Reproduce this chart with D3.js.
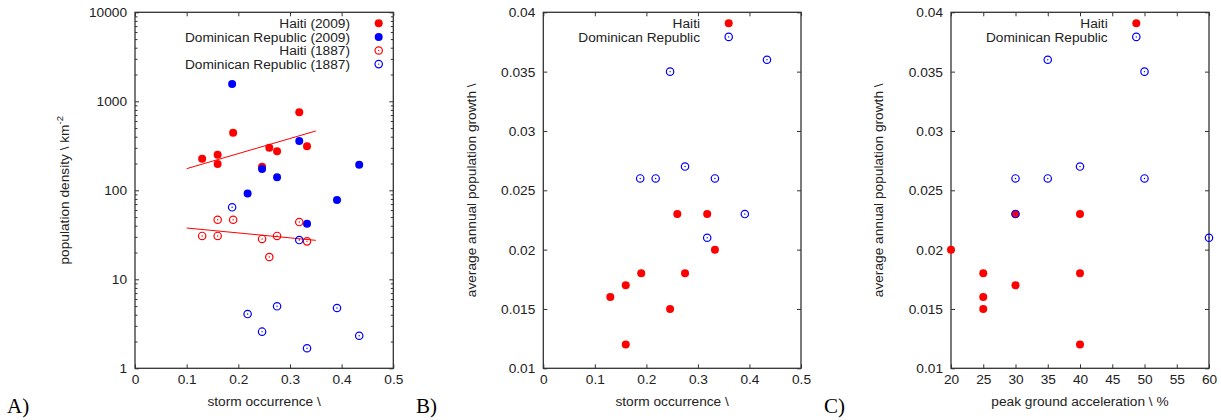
<!DOCTYPE html>
<html>
<head>
<meta charset="utf-8">
<script src="https://cdn.jsdelivr.net/npm/d3@7"></script>
<style>
  body { margin: 0; background: #fff; }
  text { font-family: 'Liberation Sans', Arial, sans-serif; fill: #222; }
  .panel-label { font-family: 'Liberation Serif', 'Times New Roman', serif; font-size: 21px; fill: #000; }
</style>
</head>
<body>
<svg width="1221" height="420"></svg>
<script>
// Haiti departments
const stormHaiti = [0.13, 0.16, 0.16, 0.19, 0.246, 0.26, 0.275, 0.318, 0.333];
const densityHaiti2009 = [226, 251, 198, 444, 184, 301, 274, 752, 312];
const densityHaiti1887 = [30.7, 46.7, 30.7, 46.7, 28.4, 17.8, 30.7, 44, 26.7];
const growthHaiti = [0.016, 0.017, 0.012, 0.018, 0.015, 0.023, 0.018, 0.023, 0.020];
const pgaHaiti = [25, 30, 40, 25, 25, 30, 40, 40, 20];

// Dominican Republic regions
const stormDR = [0.188, 0.218, 0.246, 0.275, 0.318, 0.333, 0.391, 0.434];
const densityDR2009 = [1563, 92, 173, 140, 358, 42, 78, 194];
const densityDR1887 = [64.4, 4.07, 2.58, 4.97, 27.6, 1.68, 4.76, 2.32];
const growthDR = [0.026, 0.026, 0.035, 0.027, 0.021, 0.026, 0.023, 0.036];
const pgaDR = [30, 35, 50, 40, 60, 50, 30, 35];

// fitted lines (endpoints)
const fitX = [0.1, 0.35];
const fitHaiti2009 = [175, 464];
const fitHaiti1887 = [37.7, 27.4];

const stormTicks = [0, 0.1, 0.2, 0.3, 0.4, 0.5];
const densityTicks = [1, 10, 100, 1000, 10000];
const growthTicks = [0.01, 0.015, 0.02, 0.025, 0.03, 0.035, 0.04];
const pgaTicks = [20, 25, 30, 35, 40, 45, 50, 55, 60];

const RED = '#ff0000';
const BLUE = '#0000ff';
const FS = '13.7px';

const svg = d3.select('svg');
const plotTop = 12.3, plotBottom = 368.3;

function filled(g, x, y, color) {
  g.append('circle').attr('cx', x).attr('cy', y).attr('r', 4).attr('fill', color);
}
function open(g, x, y, color) {
  g.append('circle').attr('cx', x).attr('cy', y).attr('r', 3.7)
    .attr('fill', 'none').attr('stroke', color).attr('stroke-width', 1.2);
  g.append('circle').attr('cx', x).attr('cy', y).attr('r', 0.7).attr('fill', color);
}

function frame(g, xScale, yScale, xTicks, yTicks, minorY) {
  const fmt = d => String(d);
  const styleAxis = sel => {
    sel.select('.domain').remove();
    sel.selectAll('line').attr('stroke', '#333');
    sel.selectAll('text').style('font-size', FS).attr('fill', '#222');
  };
  g.append('g').attr('transform', `translate(0,${plotBottom})`)
    .call(d3.axisBottom(xScale).tickValues(xTicks).tickFormat(fmt).tickSize(-4).tickPadding(6))
    .call(styleAxis);
  g.append('g').attr('transform', `translate(0,${plotTop})`)
    .call(d3.axisTop(xScale).tickValues(xTicks).tickFormat('').tickSize(-4))
    .call(styleAxis);
  const x0 = xScale.range()[0], x1 = xScale.range()[1];
  g.append('g').attr('transform', `translate(${x0},0)`)
    .call(d3.axisLeft(yScale).tickValues(yTicks).tickFormat(fmt).tickSize(-4).tickPadding(8))
    .call(styleAxis);
  g.append('g').attr('transform', `translate(${x1},0)`)
    .call(d3.axisRight(yScale).tickValues(yTicks).tickFormat('').tickSize(-4))
    .call(styleAxis);
  if (minorY) {
    g.append('g').attr('transform', `translate(${x0},0)`)
      .call(d3.axisLeft(yScale).tickValues(minorY).tickFormat('').tickSize(-2.5))
      .call(styleAxis);
    g.append('g').attr('transform', `translate(${x1},0)`)
      .call(d3.axisRight(yScale).tickValues(minorY).tickFormat('').tickSize(-2.5))
      .call(styleAxis);
  }
  g.append('rect').attr('x', x0).attr('y', plotTop)
    .attr('width', x1 - x0).attr('height', plotBottom - plotTop)
    .attr('fill', 'none').attr('stroke', '#333').attr('stroke-width', 1.3);
}

function titles(g, xScale, xTitle, yX, yTitle, label, labelX) {
  const xr = xScale.range();
  g.append('text').attr('x', (xr[0] + xr[1]) / 2).attr('y', 406)
    .attr('text-anchor', 'middle').style('font-size', FS).text(xTitle);
  const yt = g.append('text')
    .attr('transform', `translate(${yX},${(plotTop + plotBottom) / 2}) rotate(-90)`)
    .attr('text-anchor', 'middle').style('font-size', FS);
  yt.append('tspan').text(yTitle.main);
  if (yTitle.sup) {
    yt.append('tspan').attr('dy', -6).style('font-size', '9.5px').text(yTitle.sup);
  }
  g.append('text').attr('class', 'panel-label').attr('x', labelX).attr('y', 413).text(label);
}

function legend(g, textX, symX, rows) {
  rows.forEach((r, i) => {
    const y = 23.3 + i * 13.6;
    g.append('text').attr('x', textX).attr('y', y + 4.8)
      .attr('text-anchor', 'end').style('font-size', FS).text(r.name);
    r.draw(g, symX, y, r.color);
  });
}

// ---- Panel A
const minorLog = [];
[1, 10, 100, 1000].forEach(b => { for (let k = 2; k <= 9; k++) minorLog.push(b * k); });

const xA = d3.scaleLinear().domain([0, 0.5]).range([135, 393.3]);
const yA = d3.scaleLog().domain([1, 10000]).range([plotBottom, plotTop]);
const gA = svg.append('g');
frame(gA, xA, yA, stormTicks, densityTicks, minorLog);

const line = d3.line().x(d => xA(d[0])).y(d => yA(d[1]));
gA.append('path').datum(d3.zip(fitX, fitHaiti2009)).attr('d', line)
  .attr('fill', 'none').attr('stroke', RED).attr('stroke-width', 1);
gA.append('path').datum(d3.zip(fitX, fitHaiti1887)).attr('d', line)
  .attr('fill', 'none').attr('stroke', RED).attr('stroke-width', 1);

stormHaiti.forEach((s, i) => filled(gA, xA(s), yA(densityHaiti2009[i]), RED));
stormDR.forEach((s, i) => filled(gA, xA(s), yA(densityDR2009[i]), BLUE));
stormHaiti.forEach((s, i) => open(gA, xA(s), yA(densityHaiti1887[i]), RED));
stormDR.forEach((s, i) => open(gA, xA(s), yA(densityDR1887[i]), BLUE));

legend(gA, 350, 378.7, [
  { name: 'Haiti (2009)', color: RED, draw: filled },
  { name: 'Dominican Republic (2009)', color: BLUE, draw: filled },
  { name: 'Haiti (1887)', color: RED, draw: open },
  { name: 'Dominican Republic (1887)', color: BLUE, draw: open }
]);
titles(gA, xA, 'storm occurrence \\', 68.5, { main: 'population density \\ km', sup: '-2' }, 'A)', 7);

// ---- Panel B
const xB = d3.scaleLinear().domain([0, 0.5]).range([543.3, 801]);
const yB = d3.scaleLinear().domain([0.01, 0.04]).range([plotBottom, plotTop]);
const gB = svg.append('g');
frame(gB, xB, yB, stormTicks, growthTicks, null);
stormHaiti.forEach((s, i) => filled(gB, xB(s), yB(growthHaiti[i]), RED));
stormDR.forEach((s, i) => open(gB, xB(s), yB(growthDR[i]), BLUE));
legend(gB, 700, 728.7, [
  { name: 'Haiti', color: RED, draw: filled },
  { name: 'Dominican Republic', color: BLUE, draw: open }
]);
titles(gB, xB, 'storm occurrence \\', 476, { main: 'average annual population growth \\' }, 'B)', 416);

// ---- Panel C
const xC = d3.scaleLinear().domain([20, 60]).range([951, 1209]);
const yC = d3.scaleLinear().domain([0.01, 0.04]).range([plotBottom, plotTop]);
const gC = svg.append('g');
frame(gC, xC, yC, pgaTicks, growthTicks, null);
pgaHaiti.forEach((p, i) => filled(gC, xC(p), yC(growthHaiti[i]), RED));
pgaDR.forEach((p, i) => open(gC, xC(p), yC(growthDR[i]), BLUE));
legend(gC, 1107.7, 1136.3, [
  { name: 'Haiti', color: RED, draw: filled },
  { name: 'Dominican Republic', color: BLUE, draw: open }
]);
titles(gC, xC, 'peak ground acceleration \\ %', 883, { main: 'average annual population growth \\' }, 'C)', 824);
</script>
</body>
</html>
